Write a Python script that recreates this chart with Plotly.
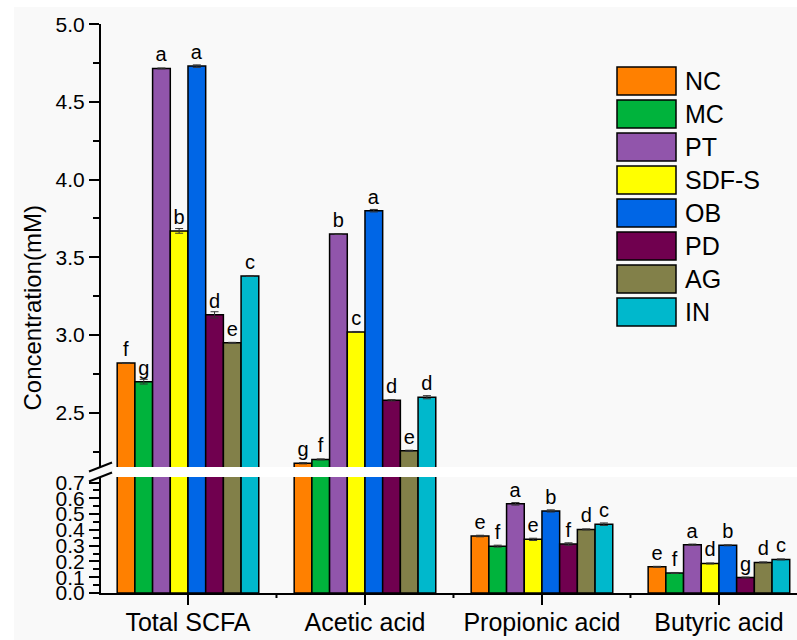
import plotly.graph_objects as go

categories = ["Total SCFA", "Acetic acid", "Propionic acid", "Butyric acid"]
groups = ["NC", "MC", "PT", "SDF-S", "OB", "PD", "AG", "IN"]
colors = ["#FF8000", "#00B33C", "#9155AB", "#FFFF00", "#0066E6", "#70004F", "#828049", "#00B8CC"]

# values per category, in group order NC..IN
total_scfa = [2.82, 2.70, 4.715, 3.67, 4.73, 3.13, 2.95, 3.38]
acetic = [2.175, 2.20, 3.65, 3.02, 3.80, 2.58, 2.255, 2.60]
propionic = [0.361, 0.297, 0.565, 0.340, 0.520, 0.310, 0.403, 0.436]
butyric = [0.166, 0.127, 0.306, 0.187, 0.302, 0.098, 0.194, 0.213]

err_total = [0.003, 0.015, 0.003, 0.015, 0.008, 0.02, 0.003, 0.003]
err_acetic = [0.004, 0.003, 0.003, 0.003, 0.008, 0.004, 0.004, 0.01]
err_propionic = [0.005, 0.006, 0.008, 0.007, 0.007, 0.008, 0.003, 0.008]
err_butyric = [0.003, 0.003, 0.004, 0.003, 0.003, 0.003, 0.003, 0.003]

let_total = ["f", "g", "a", "b", "a", "d", "e", "c"]
let_acetic = ["g", "f", "b", "c", "a", "d", "e", "d"]
let_propionic = ["e", "f", "a", "e", "b", "f", "d", "c"]
let_butyric = ["e", "f", "a", "d", "b", "g", "d", "c"]

upper_categories = ["Total SCFA", "Acetic acid"]

FONT = "Liberation Sans, Arial, sans-serif"

# pixel geometry helpers
W, H = 797, 640
ML, MR, MT, MB = 101, 0, 24, 47
PW = W - ML - MR
PH = H - MT - MB


def px_x(p):
    return (p - ML) / PW


def px_y(p):
    return (H - MB - p) / PH


low_dom = [0, px_y(477)]
up_dom = [px_y(467), 1]

fig = go.Figure()
for i, g in enumerate(groups):
    vals = [total_scfa[i], acetic[i], propionic[i], butyric[i]]
    errs = [err_total[i], err_acetic[i], err_propionic[i], err_butyric[i]]
    lets = [let_total[i], let_acetic[i], let_propionic[i], let_butyric[i]]
    for part in ("lower", "upper"):
        is_up = part == "upper"
        txt = [l if ((c in upper_categories) == is_up) else "" for c, l in zip(categories, lets)]
        fig.add_trace(go.Bar(
            x=categories, y=vals, name=g, showlegend=False,
            marker=dict(color=colors[i], line=dict(color="black", width=1.5)),
            error_y=dict(type="data", array=errs, color="#333333", thickness=1, width=4),
            text=txt, textposition="outside", cliponaxis=True,
            textfont=dict(size=20, color="black", family=FONT),
            xaxis="x2" if is_up else "x", yaxis="y2" if is_up else "y",
        ))

xrange = [-0.4915, 3.441]
fig.update_layout(
    width=W, height=H,
    margin=dict(l=ML, r=MR, t=MT, b=MB),
    paper_bgcolor="#F9F9F9", plot_bgcolor="#F9F9F9",
    barmode="group", bargap=0.2, bargroupgap=0,
    font=dict(family=FONT, color="black"),
    xaxis=dict(domain=[0, 1], anchor="y", range=xrange, type="category",
               showline=True, linecolor="black", linewidth=2,
               ticks="outside", ticklen=10, tickwidth=2, tickcolor="black",
               ticklabelstandoff=-4,
               tickfont=dict(size=25, family=FONT), showgrid=False, automargin=False),
    xaxis2=dict(domain=[0, 1], anchor="y2", matches="x", type="category",
                visible=False, showgrid=False),
    yaxis=dict(domain=low_dom, anchor="x", range=[0, 0.735], tick0=0, dtick=0.1,
               tickformat=".1f", showline=True, linecolor="black", linewidth=2,
               ticks="outside", ticklen=10, tickwidth=2, tickcolor="black",
               minor=dict(dtick=0.05, tick0=0, ticks="outside", ticklen=6, tickwidth=2, tickcolor="black"),
               tickfont=dict(size=21, family=FONT), showgrid=False, zeroline=False, automargin=False),
    yaxis2=dict(domain=up_dom, anchor="x2", range=[2.151, 5.001], tick0=0, dtick=0.5,
                tickformat=".1f", showline=True, linecolor="black", linewidth=2,
                ticks="outside", ticklen=10, tickwidth=2, tickcolor="black",
                minor=dict(dtick=0.25, tick0=0, ticks="outside", ticklen=6, tickwidth=2, tickcolor="black"),
                tickfont=dict(size=21, family=FONT), showgrid=False, zeroline=False, automargin=False),
)

shapes = []
# white gap band for the axis break
shapes.append(dict(type="rect", xref="paper", yref="paper", x0=px_x(113), x1=1,
                   y0=low_dom[1], y1=up_dom[0], fillcolor="white", line=dict(width=0), layer="below"))
# white outer strips
shapes.append(dict(type="rect", xref="paper", yref="paper", x0=px_x(0), x1=px_x(14),
                   y0=px_y(640), y1=px_y(0), fillcolor="white", line=dict(width=0), layer="below"))
shapes.append(dict(type="rect", xref="paper", yref="paper", x0=px_x(0), x1=1,
                   y0=px_y(7), y1=px_y(0), fillcolor="white", line=dict(width=0), layer="below"))
# break slashes
for ya in (up_dom[0], low_dom[1]):
    shapes.append(dict(type="line", xref="paper", yref="paper", xsizemode="pixel", ysizemode="pixel",
                       xanchor=0, yanchor=ya, x0=-12, x1=11, y0=-4.5, y1=4.5,
                       line=dict(color="black", width=2)))
# short ticks between categories
for k in range(len(categories) - 1):
    shapes.append(dict(type="line", xref="x", yref="paper", ysizemode="pixel", yanchor=0,
                       x0=k + 0.5, x1=k + 0.5, y0=0, y1=-5, line=dict(color="black", width=2)))

annotations = []
# custom legend
for i, g in enumerate(groups):
    top = 67 + i * 33
    shapes.append(dict(type="rect", xref="paper", yref="paper",
                       x0=px_x(617), x1=px_x(676), y0=px_y(top + 28), y1=px_y(top),
                       fillcolor=colors[i], line=dict(color="black", width=1.5)))
    annotations.append(dict(xref="paper", yref="paper", x=px_x(683), y=px_y(top + 14),
                            text=g, showarrow=False, xanchor="left", yanchor="middle",
                            font=dict(size=25, family=FONT, color="black")))
# y-axis title
annotations.append(dict(xref="paper", yref="paper", x=px_x(32), y=0.5, text="Concentration(mM)",
                        textangle=-90, showarrow=False, xanchor="center", yanchor="middle",
                        font=dict(size=24, family=FONT, color="black")))

fig.update_layout(shapes=shapes, annotations=annotations)
fig.write_html("out.html", config={"displayModeBar": False},
               post_script="document.body.style.margin='0';document.body.style.overflow='hidden';")
